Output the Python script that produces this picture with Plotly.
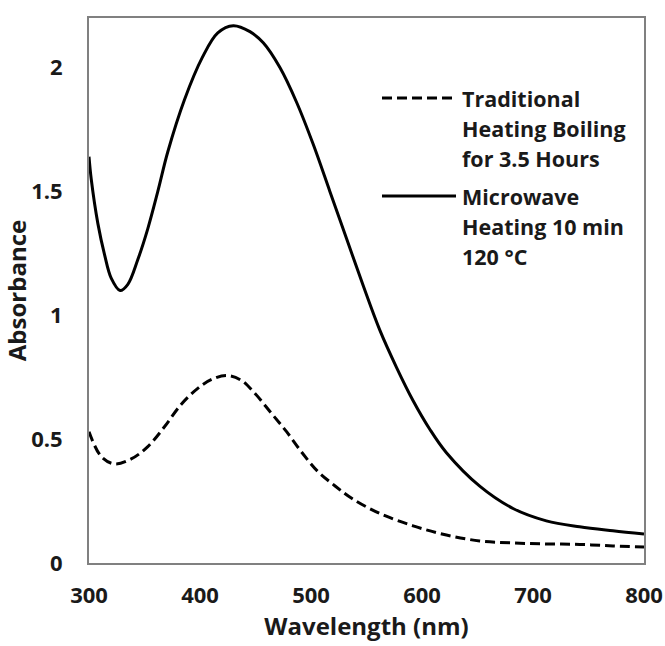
import plotly.graph_objects as go

# Microwave heating (solid)
wl_microwave = [300, 302, 308, 314, 320, 328, 335, 344, 353, 362, 371, 386, 402, 416, 430,
                445, 457, 472, 487, 502, 517, 532, 547, 562, 577, 592, 607, 622, 652, 682, 712, 742, 772, 800]
abs_microwave = [1.64, 1.55, 1.37, 1.245, 1.15, 1.10, 1.125, 1.225, 1.35, 1.50, 1.66, 1.87, 2.04, 2.14, 2.169,
                 2.145, 2.10, 2.00, 1.86, 1.69, 1.50, 1.31, 1.12, 0.94, 0.79, 0.655, 0.54, 0.445, 0.31, 0.22,
                 0.17, 0.146, 0.13, 0.117]

# Traditional heating (dashed)
wl_traditional = [300, 311, 323, 338, 353, 368, 383, 398, 410, 424, 437, 449, 464, 478, 492, 506,
                  522, 537, 562, 592, 622, 652, 682, 712, 742, 772, 800]
abs_traditional = [0.53, 0.43, 0.40, 0.42, 0.47, 0.55, 0.64, 0.705, 0.74, 0.757, 0.738, 0.687, 0.606, 0.53,
                   0.445, 0.37, 0.31, 0.26, 0.20, 0.15, 0.113, 0.089, 0.081, 0.077, 0.075, 0.069, 0.065]

names = ["Traditional<br>Heating Boiling<br>for 3.5 Hours",
         "Microwave<br>Heating 10 min<br>120 °C"]

x_ticks = [300, 400, 500, 600, 700, 800]
y_ticks = [0, 0.5, 1, 1.5, 2]
y_tick_labels = ["0", "0.5", "1", "1.5", "2"]

FONT = "Open Sans"
TXT = "#1a1a1a"
DASH = "10px,5px"

fig = go.Figure()
fig.add_trace(go.Scatter(x=wl_traditional, y=abs_traditional, mode="lines",
                         line=dict(color="black", width=3, dash=DASH, shape="spline", smoothing=1.0),
                         name=names[0], showlegend=False))
fig.add_trace(go.Scatter(x=wl_microwave, y=abs_microwave, mode="lines",
                         line=dict(color="black", width=3, shape="spline", smoothing=1.0),
                         name=names[1], showlegend=False))

L, R, T, B = 89, 21, 18, 83
W, H = 665, 646
pw, ph = W - L - R, H - T - B

def px(xp):
    return (xp - L) / pw

def py(yp):
    return (H - B - yp) / ph

# custom legend (sample line + text lines)
legend_rows = [(98, DASH, names[0]), (196, "solid", names[1])]
LINE_GAP = 30
for yy, dash, nm in legend_rows:
    fig.add_shape(type="line", xref="paper", yref="paper",
                  x0=px(382), x1=px(456), y0=py(yy), y1=py(yy),
                  line=dict(color="black", width=3, dash=dash))
    for i, part in enumerate(nm.split("<br>")):
        fig.add_annotation(xref="paper", yref="paper", x=px(460), y=py(yy + i * LINE_GAP),
                           xanchor="left", yanchor="middle", align="left", showarrow=False,
                           text=part, font=dict(family=FONT, size=21.5, color=TXT, weight="bold"))

fig.update_layout(
    width=W, height=H,
    margin=dict(l=L, r=R, t=T, b=B),
    paper_bgcolor="white", plot_bgcolor="white",
    font=dict(family=FONT, size=22, color=TXT, weight="bold"),
    xaxis=dict(range=[300, 800], tickvals=x_ticks, showgrid=False, zeroline=False,
               showline=True, mirror=True, linecolor="#808080", linewidth=2,
               ticks="", ticklabelstandoff=12, automargin=False,
               tickfont=dict(family=FONT, size=22, color=TXT, weight="bold"),
               title=dict(text="Wavelength (nm)", standoff=6,
                          font=dict(family=FONT, size=24, color=TXT, weight="bold"))),
    yaxis=dict(range=[0, 2.2], tickvals=y_ticks, ticktext=y_tick_labels, showgrid=False, zeroline=False,
               showline=True, mirror=True, linecolor="#808080", linewidth=2,
               ticks="", ticklabelstandoff=20, automargin=False,
               tickfont=dict(family=FONT, size=22, color=TXT, weight="bold"),
               title=dict(text="Absorbance", standoff=4,
                          font=dict(family=FONT, size=24, color=TXT, weight="bold"))),
)

fig.write_html("out.html")
